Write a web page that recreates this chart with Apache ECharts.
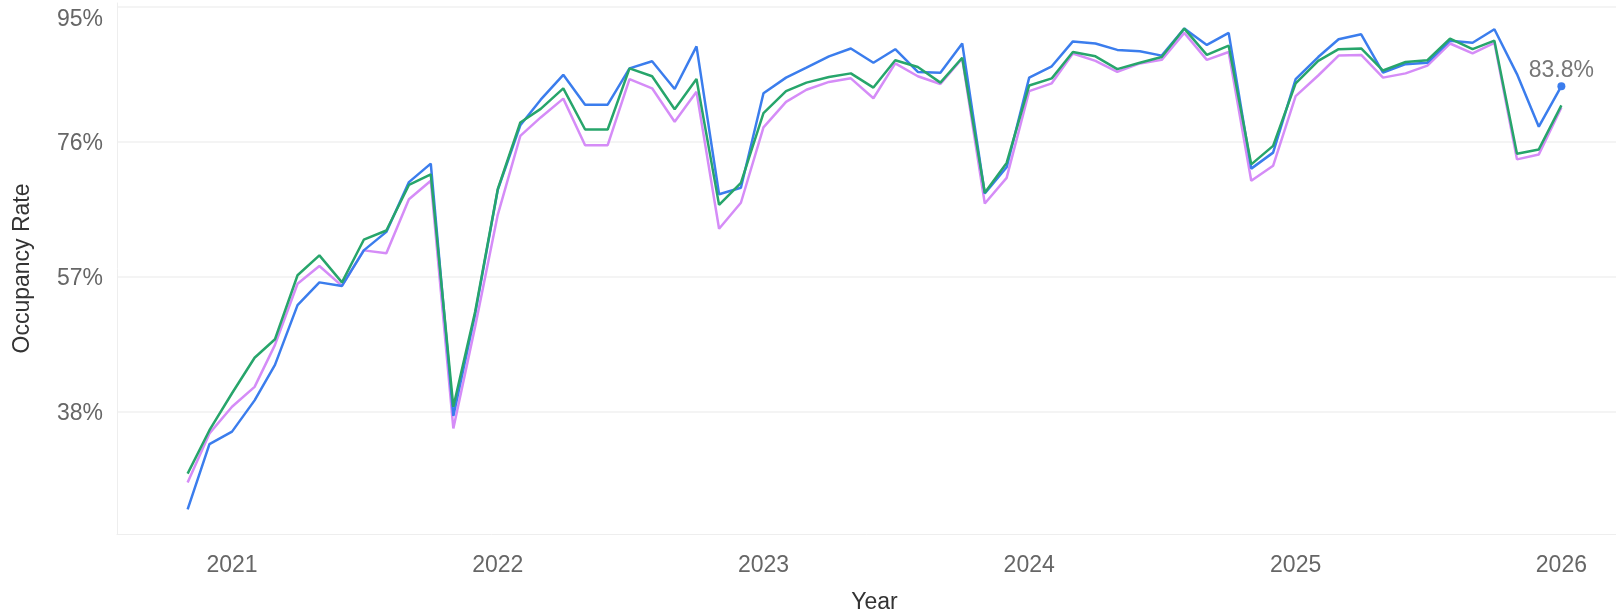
<!DOCTYPE html>
<html>
<head>
<meta charset="utf-8">
<script src="https://cdn.jsdelivr.net/npm/echarts@6/dist/echarts.min.js"></script>
<style>
html,body{margin:0;padding:0;background:#fff;}
#chart{width:1616px;height:616px;}
</style>
</head>
<body>
<div id="chart"></div>
<script>
var months = [
'2020-11-01','2020-12-01',
'2021-01-01','2021-02-01','2021-03-01','2021-04-01','2021-05-01','2021-06-01','2021-07-01','2021-08-01','2021-09-01','2021-10-01','2021-11-01','2021-12-01',
'2022-01-01','2022-02-01','2022-03-01','2022-04-01','2022-05-01','2022-06-01','2022-07-01','2022-08-01','2022-09-01','2022-10-01','2022-11-01','2022-12-01',
'2023-01-01','2023-02-01','2023-03-01','2023-04-01','2023-05-01','2023-06-01','2023-07-01','2023-08-01','2023-09-01','2023-10-01','2023-11-01','2023-12-01',
'2024-01-01','2024-02-01','2024-03-01','2024-04-01','2024-05-01','2024-06-01','2024-07-01','2024-08-01','2024-09-01','2024-10-01','2024-11-01','2024-12-01',
'2025-01-01','2025-02-01','2025-03-01','2025-04-01','2025-05-01','2025-06-01','2025-07-01','2025-08-01','2025-09-01','2025-10-01','2025-11-01','2025-12-01',
'2026-01-01'
];

var blueValues = [
24.25,33.45,
35.2,39.6,44.6,53.0,56.2,55.7,60.7,63.3,70.3,72.9,37.4,51.8,
69.2,78.3,81.9,85.4,81.2,81.2,86.3,87.3,83.4,89.4,68.6,69.5,
82.8,85.0,86.4,88.0,89.1,87.1,89.0,85.8,85.7,89.8,68.7,72.4,
85.0,86.6,90.1,89.8,88.9,88.7,88.1,91.9,89.6,91.3,72.2,74.45,
84.8,87.9,90.4,91.1,85.7,86.9,87.1,90.2,89.9,91.8,85.5,78.1,
83.8
];

var greenValues = [
29.3,35.4,
40.6,45.6,48.2,57.2,60.0,56.2,62.2,63.5,69.9,71.4,38.7,52.1,
69.3,78.7,80.6,83.5,77.7,77.7,86.3,85.2,80.55,84.8,67.1,70.2,
80.0,83.1,84.3,85.1,85.6,83.6,87.45,86.5,84.3,87.8,68.8,73.0,
83.9,84.9,88.6,88.0,86.2,87.1,87.9,91.9,88.2,89.5,72.8,75.4,
84.2,87.35,89.0,89.1,86.0,87.2,87.45,90.5,89.0,90.2,74.3,74.9,
81.1
];

var purpleValues = [
28.05,34.95,
38.7,41.5,47.4,56.0,58.5,55.7,60.7,60.3,67.9,70.5,35.65,50.0,
65.7,76.8,79.4,82.05,75.5,75.5,84.8,83.5,78.8,83.0,63.75,67.4,
78.0,81.6,83.3,84.4,84.9,82.1,87.0,85.2,84.1,87.7,67.3,70.9,
83.1,84.2,88.4,87.35,85.8,87.0,87.5,91.3,87.5,88.6,70.5,72.6,
82.4,85.3,88.1,88.2,85.0,85.6,86.7,89.8,88.4,89.9,73.5,74.2,
80.8
];

var yTicks = [38, 57, 76, 95];
var xRange = ['2020-07-27', '2026-04-08'];
var yRange = [20.8, 95.5];

function toDate(s) {
  var p = s.split('-');
  return new Date(+p[0], +p[1] - 1, +p[2]).getTime();
}

function pairs(vals) {
  return months.map(function (m, i) { return [toDate(m), vals[i]]; });
}

var FONT = '"Liberation Sans", Arial, Helvetica, sans-serif';
var FS = 23;
var lastIndex = months.length - 1;

var chart = echarts.init(document.getElementById('chart'), null, { renderer: 'canvas' });

var blueData = pairs(blueValues);
blueData[lastIndex] = {
  value: blueData[lastIndex],
  label: {
    show: true,
    position: 'top',
    distance: 0,
    formatter: function (p) { return p.value[1].toFixed(1) + '%'; },
    color: '#777',
    fontSize: FS,
    fontFamily: FONT
  }
};

chart.setOption({
  animation: false,
  backgroundColor: '#fff',
  grid: {
    left: 117,
    right: -16,
    top: 3,
    bottom: 82,
    containLabel: false,
    outerBoundsMode: 'none'
  },
  xAxis: {
    type: 'time',
    min: toDate(xRange[0]),
    max: toDate(xRange[1]),
    name: 'Year',
    nameLocation: 'middle',
    nameGap: 57,
    nameTextStyle: { color: '#333', fontSize: FS, fontFamily: FONT },
    axisLine: { show: true, lineStyle: { color: '#eeeeee', width: 1 } },
    axisTick: { show: false },
    splitLine: { show: false },
    axisLabel: {
      formatter: function (v) {
        var d = new Date(v);
        return (d.getMonth() === 0 && d.getDate() === 1) ? String(d.getFullYear()) : '';
      },
      hideOverlap: false,
      showMinLabel: false,
      showMaxLabel: false,
      color: '#666',
      fontSize: FS,
      fontFamily: FONT,
      margin: 20
    }
  },
  yAxis: {
    type: 'value',
    min: yRange[0],
    max: yRange[1],
    name: 'Occupancy Rate',
    nameLocation: 'middle',
    nameGap: 83,
    nameTextStyle: { color: '#333', fontSize: FS, fontFamily: FONT },
    axisLine: { show: true, lineStyle: { color: '#eeeeee', width: 1 } },
    axisTick: { show: false, customValues: yTicks },
    splitLine: { show: true, lineStyle: { color: '#f0f0f0', width: 1.5 } },
    axisLabel: {
      customValues: yTicks,
      formatter: function (v) { return v === 95 ? '{t|95%}' : '{n|' + v + '%}'; },
      color: '#666',
      fontSize: FS,
      fontFamily: FONT,
      margin: 14,
      rich: {
        t: { padding: [27, 0, 0, 0], color: '#666', fontSize: FS, fontFamily: FONT },
        n: { padding: [4, 0, 0, 0], color: '#666', fontSize: FS, fontFamily: FONT }
      }
    }
  },
  series: [
    {
      name: 'Purple',
      type: 'line',
      data: pairs(purpleValues),
      showSymbol: false,
      lineStyle: { color: '#d58cf7', width: 2.5 },
      itemStyle: { color: '#d58cf7' },
      z: 2
    },
    {
      name: 'Blue',
      type: 'line',
      data: blueData,
      showSymbol: true,
      showAllSymbol: true,
      symbol: function (value, params) { return params.dataIndex === lastIndex ? 'circle' : 'none'; },
      symbolSize: 8,
      lineStyle: { color: '#3b7ded', width: 2.5 },
      itemStyle: { color: '#3b7ded' },
      z: 3
    },
    {
      name: 'Green',
      type: 'line',
      data: pairs(greenValues),
      showSymbol: false,
      lineStyle: { color: '#27a56b', width: 2.5 },
      itemStyle: { color: '#27a56b' },
      z: 4
    }
  ]
});
</script>
</body>
</html>
